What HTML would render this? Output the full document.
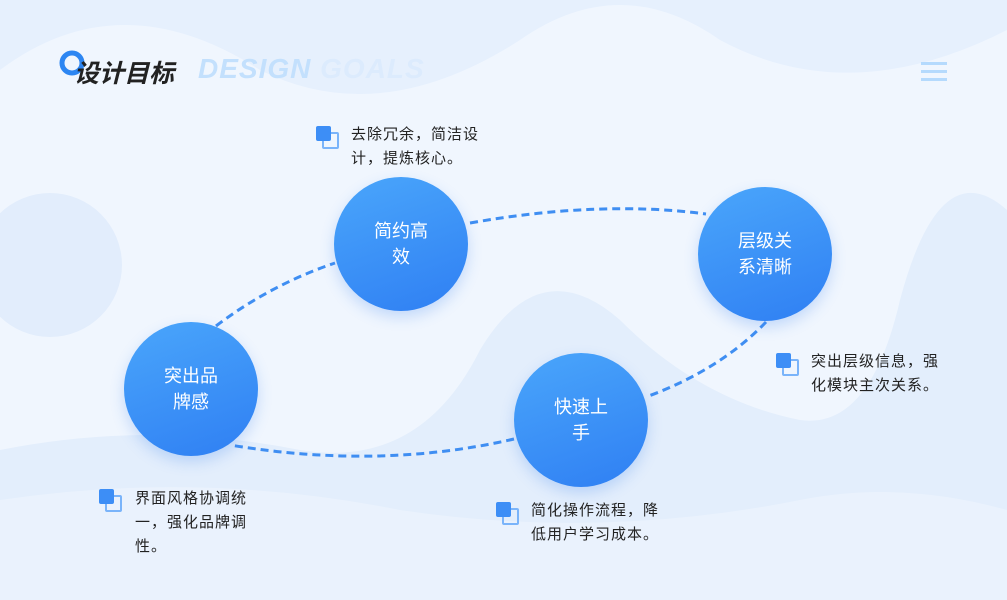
<!DOCTYPE html>
<html><head><meta charset="utf-8"><style>
body{margin:0;width:1007px;height:600px;overflow:hidden;background:#f0f6fe;font-family:"Liberation Sans","Noto Sans CJK SC",sans-serif;position:relative}
.c{position:absolute;width:134px;height:134px;border-radius:50%;background:linear-gradient(160deg,#4aa6fb,#2f7ff3);color:#fff;font-size:18px;line-height:26px;display:flex;align-items:center;justify-content:center;text-align:center;box-shadow:0 6px 14px rgba(60,130,240,.25)}
.t{position:absolute;font-size:15px;line-height:24px;color:#222;letter-spacing:1px}
.ic{position:absolute;width:24px;height:24px}
.ic:before{content:"";position:absolute;left:0;top:0;width:15px;height:15px;background:#3d8ef6;border-radius:2px;z-index:1}
.ic:after{content:"";position:absolute;left:6px;top:6px;width:13px;height:13px;border:2px solid #7ab4fa;border-radius:2px}
</style></head><body>
<svg width="1007" height="600" style="position:absolute;left:0;top:0">
<path d="M0,70 Q120,-20 260,70 Q380,130 520,40 Q620,-30 720,40 Q850,110 1007,30 L1007,0 L0,0Z" fill="#e6f0fd"/>
<path d="M0,450 Q150,420 300,450 Q420,470 480,350 Q540,250 620,320 Q700,400 800,420 Q870,430 900,300 Q940,150 1007,210 L1007,600 L0,600Z" fill="#e3eefc"/>
<path d="M0,500 Q200,470 400,510 Q600,540 800,500 Q900,480 1007,510 L1007,600 L0,600Z" fill="#eaf2fd"/>
<circle cx="50" cy="265" r="72" fill="#e2edfc"/>
<g fill="none" stroke="#3f8ef2" stroke-width="3" stroke-dasharray="8 5">
<path d="M216,326 Q270,285 335,263"/>
<path d="M470,223 Q600,200 706,214"/>
<path d="M766,322 Q720,370 646,397"/>
<path d="M514,439 Q380,470 230,445"/>
</g>
<circle cx="72" cy="63" r="10" fill="none" stroke="#2d86f2" stroke-width="5"/>
<g fill="#b5dafd"><rect x="921" y="62" width="26" height="3"/><rect x="921" y="70" width="26" height="3"/><rect x="921" y="78" width="26" height="3"/></g>
</svg>
<div style="position:absolute;left:74px;top:54px;font-size:25px;font-weight:bold;font-style:italic;color:#222">设计目标</div>
<div style="position:absolute;left:198px;top:53px;font-size:28px;font-weight:bold;font-style:italic;color:#c3e0fd;letter-spacing:1px">DESIGN <span style="color:#dcebfd">GOALS</span></div>
<div class="c" style="left:334px;top:177px">简约高<br>效</div>
<div class="c" style="left:698px;top:187px">层级关<br>系清晰</div>
<div class="c" style="left:124px;top:322px">突出品<br>牌感</div>
<div class="c" style="left:514px;top:353px">快速上<br>手</div>
<div class="ic" style="left:316px;top:126px"></div>
<div class="t" style="left:351px;top:123px">去除冗余，简洁设<br>计，提炼核心。</div>
<div class="ic" style="left:776px;top:353px"></div>
<div class="t" style="left:811px;top:350px">突出层级信息，强<br>化模块主次关系。</div>
<div class="ic" style="left:99px;top:489px"></div>
<div class="t" style="left:135px;top:487px">界面风格协调统<br>一，强化品牌调<br>性。</div>
<div class="ic" style="left:496px;top:502px"></div>
<div class="t" style="left:531px;top:499px">简化操作流程，降<br>低用户学习成本。</div>
</body></html>
